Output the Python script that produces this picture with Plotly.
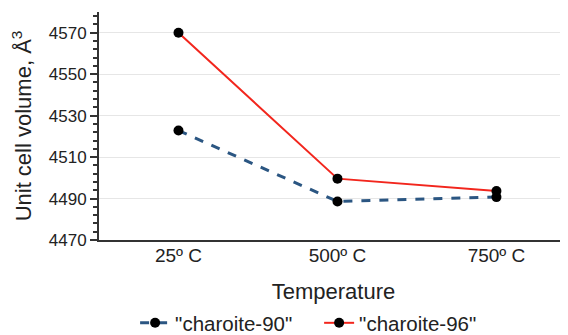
import plotly.graph_objects as go

categories = ["25º C", "500º C", "750º C"]
charoite_90 = [4522.8, 4488.6, 4490.7]
charoite_96 = [4570.0, 4499.6, 4493.6]
y_ticks = [4470, 4490, 4510, 4530, 4550, 4570]

xpos = list(range(len(categories)))
font_family = "Liberation Sans, Arial, sans-serif"
axis_color = "#333333"

fig = go.Figure()
fig.add_trace(go.Scatter(
    x=xpos, y=charoite_90, name='"charoite-90"', mode="lines+markers",
    line=dict(color="#2B5682", width=3, dash="dash"),
    marker=dict(color="black", size=10),
))
fig.add_trace(go.Scatter(
    x=xpos, y=charoite_96, name='"charoite-96"', mode="lines+markers",
    line=dict(color="#F2261D", width=2),
    marker=dict(color="black", size=10),
))

# page body has an 8px default margin, so the figure is sized/positioned to compensate
fig.update_layout(
    width=560, height=327,
    margin=dict(l=91, r=0, t=4, b=95, autoexpand=False),
    paper_bgcolor="white", plot_bgcolor="white",
    font=dict(family=font_family, color="#222222", size=18),
    showlegend=True,
    legend=dict(orientation="h", x=0.077, xanchor="left", y=-0.364, yanchor="middle",
                font=dict(size=20.5, color="#222222"), itemwidth=30,
                entrywidth=139, entrywidthmode="pixels",
                bgcolor="rgba(0,0,0,0)"),
    xaxis=dict(
        range=[-0.5, 2.45], tickmode="array", tickvals=xpos, ticktext=categories,
        showgrid=False, zeroline=False, showline=True, linecolor=axis_color, linewidth=2,
        ticks="", tickfont=dict(size=19), automargin=False, ticklabelstandoff=-3,
        title=dict(text="Temperature", font=dict(size=22), standoff=19),
    ),
    yaxis=dict(
        range=[4470, 4580], tickmode="array", tickvals=y_ticks,
        showgrid=True, gridcolor="#E6E6E6", gridwidth=1, zeroline=False,
        showline=True, linecolor=axis_color, linewidth=2,
        ticks="outside", ticklen=7, tickwidth=2, tickcolor=axis_color,
        tickfont=dict(size=17), automargin=False,
        minor=dict(dtick=4, tick0=4470, ticks="outside", ticklen=4, tickwidth=1.5,
                   tickcolor=axis_color, showgrid=False),
        title=dict(text="Unit cell volume, Å<sup>3</sup>", font=dict(size=22), standoff=14),
    ),
    yaxis2=dict(
        range=[4470, 4580], overlaying="y", side="left", tickmode="array", tickvals=y_ticks,
        showgrid=False, zeroline=False, showline=False, showticklabels=False,
        ticks="inside", ticklen=7, tickwidth=2, tickcolor=axis_color, automargin=False,
    ),
)

fig.write_html("out.html")
